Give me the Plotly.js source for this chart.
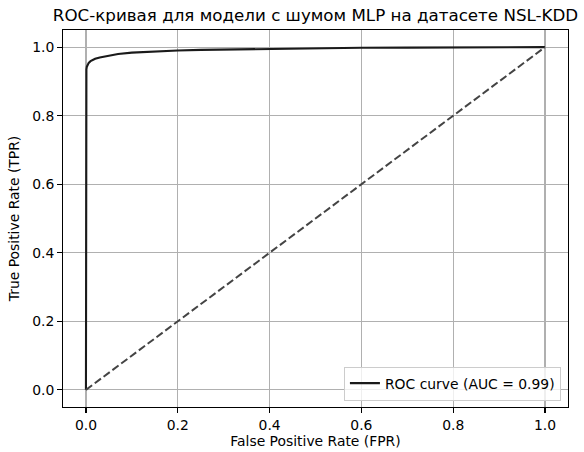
<!DOCTYPE html>
<html>
<head>
<meta charset="utf-8">
<script src="https://cdn.plot.ly/plotly-3.0.1.min.js"></script>
<style>html,body{margin:0;padding:0;background:#fff;}#chart{width:584px;height:452px;}</style>
</head>
<body>
<div id="chart"></div>
<script>
var fpr = [0, 0, 0, 0.0005, 0.001, 0.002, 0.004, 0.006, 0.01, 0.015, 0.02, 0.03, 0.04, 0.05, 0.07, 0.1, 0.13, 0.17, 0.2, 0.25, 0.3, 0.4, 0.5, 0.6, 0.7, 0.8, 0.9, 1.0];
var tpr = [0, 0.5, 0.90, 0.925, 0.935, 0.943, 0.950, 0.954, 0.959, 0.963, 0.966, 0.970, 0.973, 0.976, 0.980, 0.984, 0.986, 0.989, 0.990, 0.992, 0.993, 0.995, 0.997, 0.998, 0.9985, 0.999, 0.9995, 1.0];
var diagX = [0, 1];
var diagY = [0, 1];
var tickVals = [0, 0.2, 0.4, 0.6, 0.8, 1.0];
var tickText = ["0.0", "0.2", "0.4", "0.6", "0.8", "1.0"];
var curveName = "ROC curve (AUC = 0.99)";
var titleText = "ROC-кривая для модели с шумом MLP на датасете NSL-KDD";
var xTitle = "False Positive Rate (FPR)";
var yTitle = "True Positive Rate (TPR)";

var FAM = "DejaVu Sans, sans-serif";
var traces = [
  {x: fpr, y: tpr, type: "scatter", mode: "lines", name: curveName,
   line: {color: "#1a1a1a", width: 2.1}},
  {x: diagX, y: diagY, type: "scatter", mode: "lines", showlegend: false,
   line: {color: "#444444", width: 2, dash: "7.7px,3.3px"}}
];
var axisBase = {
  range: [-0.05, 1.05], showline: true, mirror: true, linecolor: "#000", linewidth: 1.1,
  ticks: "outside", ticklen: 4.9, tickwidth: 1.1, tickcolor: "#000",
  tickvals: tickVals, ticktext: tickText, showgrid: true, gridcolor: "#b0b0b0", gridwidth: 1.1,
  zeroline: false, automargin: false, tickfont: {family: FAM, size: 13.9, color: "#000"}
};
var layout = {
  width: 584, height: 452,
  margin: {l: 63, r: 16, t: 30, b: 45},
  paper_bgcolor: "#fff", plot_bgcolor: "#fff",
  font: {family: FAM, size: 13.9, color: "#000"},
  title: {text: titleText, font: {family: FAM, size: 16.7, color: "#000"},
          xref: "paper", x: 0.5, xanchor: "center", yref: "container", y: 1 - 15/452, yanchor: "middle"},
  xaxis: Object.assign({}, axisBase, {title: {text: xTitle, font: {family: FAM, size: 13.9, color: "#000"}, standoff: 4}}),
  yaxis: Object.assign({}, axisBase, {title: {text: yTitle, font: {family: FAM, size: 13.9, color: "#000"}, standoff: 9}}),
  legend: {x: 0.986, xanchor: "right", y: 0.017, yanchor: "bottom", bgcolor: "rgba(255,255,255,0.8)",
           bordercolor: "#cccccc", borderwidth: 1, itemwidth: 30, font: {family: FAM, size: 13.9, color: "#000"}},
  showlegend: true
};
Plotly.newPlot("chart", traces, layout, {displayModeBar: false, staticPlot: true});
</script>
</body>
</html>
